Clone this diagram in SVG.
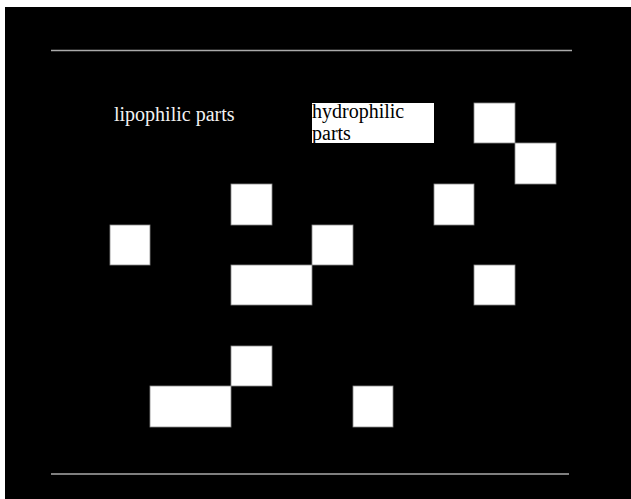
<svg xmlns="http://www.w3.org/2000/svg" width="631" height="499" viewBox="0 0 631 499">
<style>
.cell{fill:#fff;stroke:#8a8a8a;stroke-width:0.8}
.rule{stroke:#aaa;stroke-width:1.5}
.lbl{font-family:"Liberation Serif",serif;font-size:20px}
</style>
<rect x="0" y="0" width="631" height="499" fill="#fff"/>
<rect x="5" y="7" width="626" height="492" fill="#000"/>
<line class="rule" x1="51" y1="50.5" x2="572" y2="50.5"/>
<line class="rule" x1="51" y1="474" x2="569" y2="474"/>
<g id="label-lipophilic">
<text class="lbl" x="114" y="121" fill="#f2f2f2">lipophilic parts</text>
</g>
<g id="label-hydrophilic">
<rect x="312" y="103" width="122" height="40" fill="#fff"/>
<text class="lbl" x="312" y="118" fill="#000">hydrophilic</text>
<text class="lbl" x="312" y="139.5" fill="#000">parts</text>
</g>
<g id="cells">
<rect class="cell" x="474" y="103" width="41" height="40"/>
<rect class="cell" x="515" y="143" width="41" height="41"/>
<rect class="cell" x="231" y="184" width="41" height="41"/>
<rect class="cell" x="434" y="184" width="40" height="41"/>
<rect class="cell" x="110" y="225" width="40" height="40"/>
<rect class="cell" x="312" y="225" width="41" height="40"/>
<rect class="cell" x="231" y="265" width="81" height="40"/>
<rect class="cell" x="474" y="265" width="41" height="40"/>
<rect class="cell" x="231" y="346" width="41" height="40"/>
<rect class="cell" x="150" y="386" width="81" height="41"/>
<rect class="cell" x="353" y="386" width="40" height="41"/>
</g>
</svg>
